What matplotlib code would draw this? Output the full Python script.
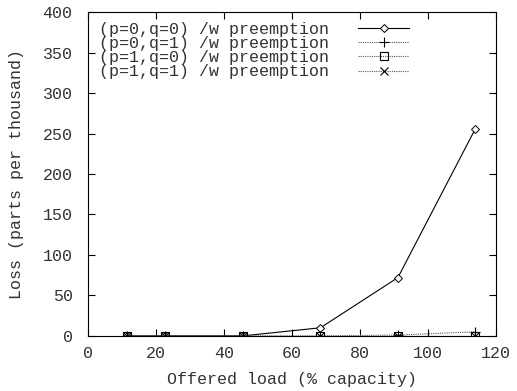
import matplotlib.pyplot as plt

# offered load (% capacity)
load = [11.4, 22.8, 45.6, 68.4, 91.2, 114.0]

# loss in parts per thousand
loss_p0q0 = [0, 0, 0, 10, 72, 256]
loss_p0q1 = [0, 0, 0, 0, 1, 5]
loss_p1q0 = [0, 0, 0, 0, 0, 0]
loss_p1q1 = [0, 0, 0, 0, 0, 0]

labels = ['(p=0,q=0) /w preemption', '(p=0,q=1) /w preemption',
          '(p=1,q=0) /w preemption', '(p=1,q=1) /w preemption']

plt.rcParams['font.family'] = 'Liberation Mono'
plt.rcParams['font.size'] = 12

txt = '#333333'

fig, ax = plt.subplots(figsize=(5.17, 3.91), dpi=100)
fig.subplots_adjust(left=0.170, right=0.959, top=0.969, bottom=0.141)

dot = (0, (1, 1))
ax.plot(load, loss_p0q0, color='black', lw=0.8, marker='D', ms=4, mfc='white',
        mew=0.7, label=labels[0])
ax.plot(load, loss_p0q1, color='#555555', lw=0.8, ls=dot, marker='+', ms=7,
        mew=0.8, mec='black', label=labels[1])
ax.plot(load, loss_p1q0, color='#555555', lw=0.8, ls=dot, marker='s', ms=6,
        mfc='none', mew=0.8, mec='black', label=labels[2])
ax.plot(load, loss_p1q1, color='#555555', lw=0.8, ls=dot, marker='x', ms=6,
        mew=0.8, mec='black', label=labels[3])

ax.set_xlim(0, 120)
ax.set_ylim(0, 400)
ax.set_xticks(range(0, 121, 20))
ax.set_yticks(range(0, 401, 50))
ax.tick_params(direction='in', length=5, width=0.8, top=True, right=True,
               colors='black', labelcolor=txt)
ax.tick_params(axis='x', pad=7)
ax.tick_params(axis='y', pad=11)
for s in ax.spines.values():
    s.set_linewidth(0.8)

ax.set_xlabel('Offered load (% capacity)', color=txt, va='center')
ax.set_ylabel('Loss (parts per thousand)', color=txt, va='center')
ax.xaxis.set_label_coords(0.5, -0.136)
ax.yaxis.set_label_coords(-0.174, 0.5)

ax.legend(loc='upper left', bbox_to_anchor=(0.02, 0.98), markerfirst=False,
          frameon=False, handlelength=3.1, handletextpad=1.7, labelspacing=-0.05,
          borderaxespad=0, borderpad=0.2, labelcolor=txt)

plt.savefig('out.png', dpi=100)
